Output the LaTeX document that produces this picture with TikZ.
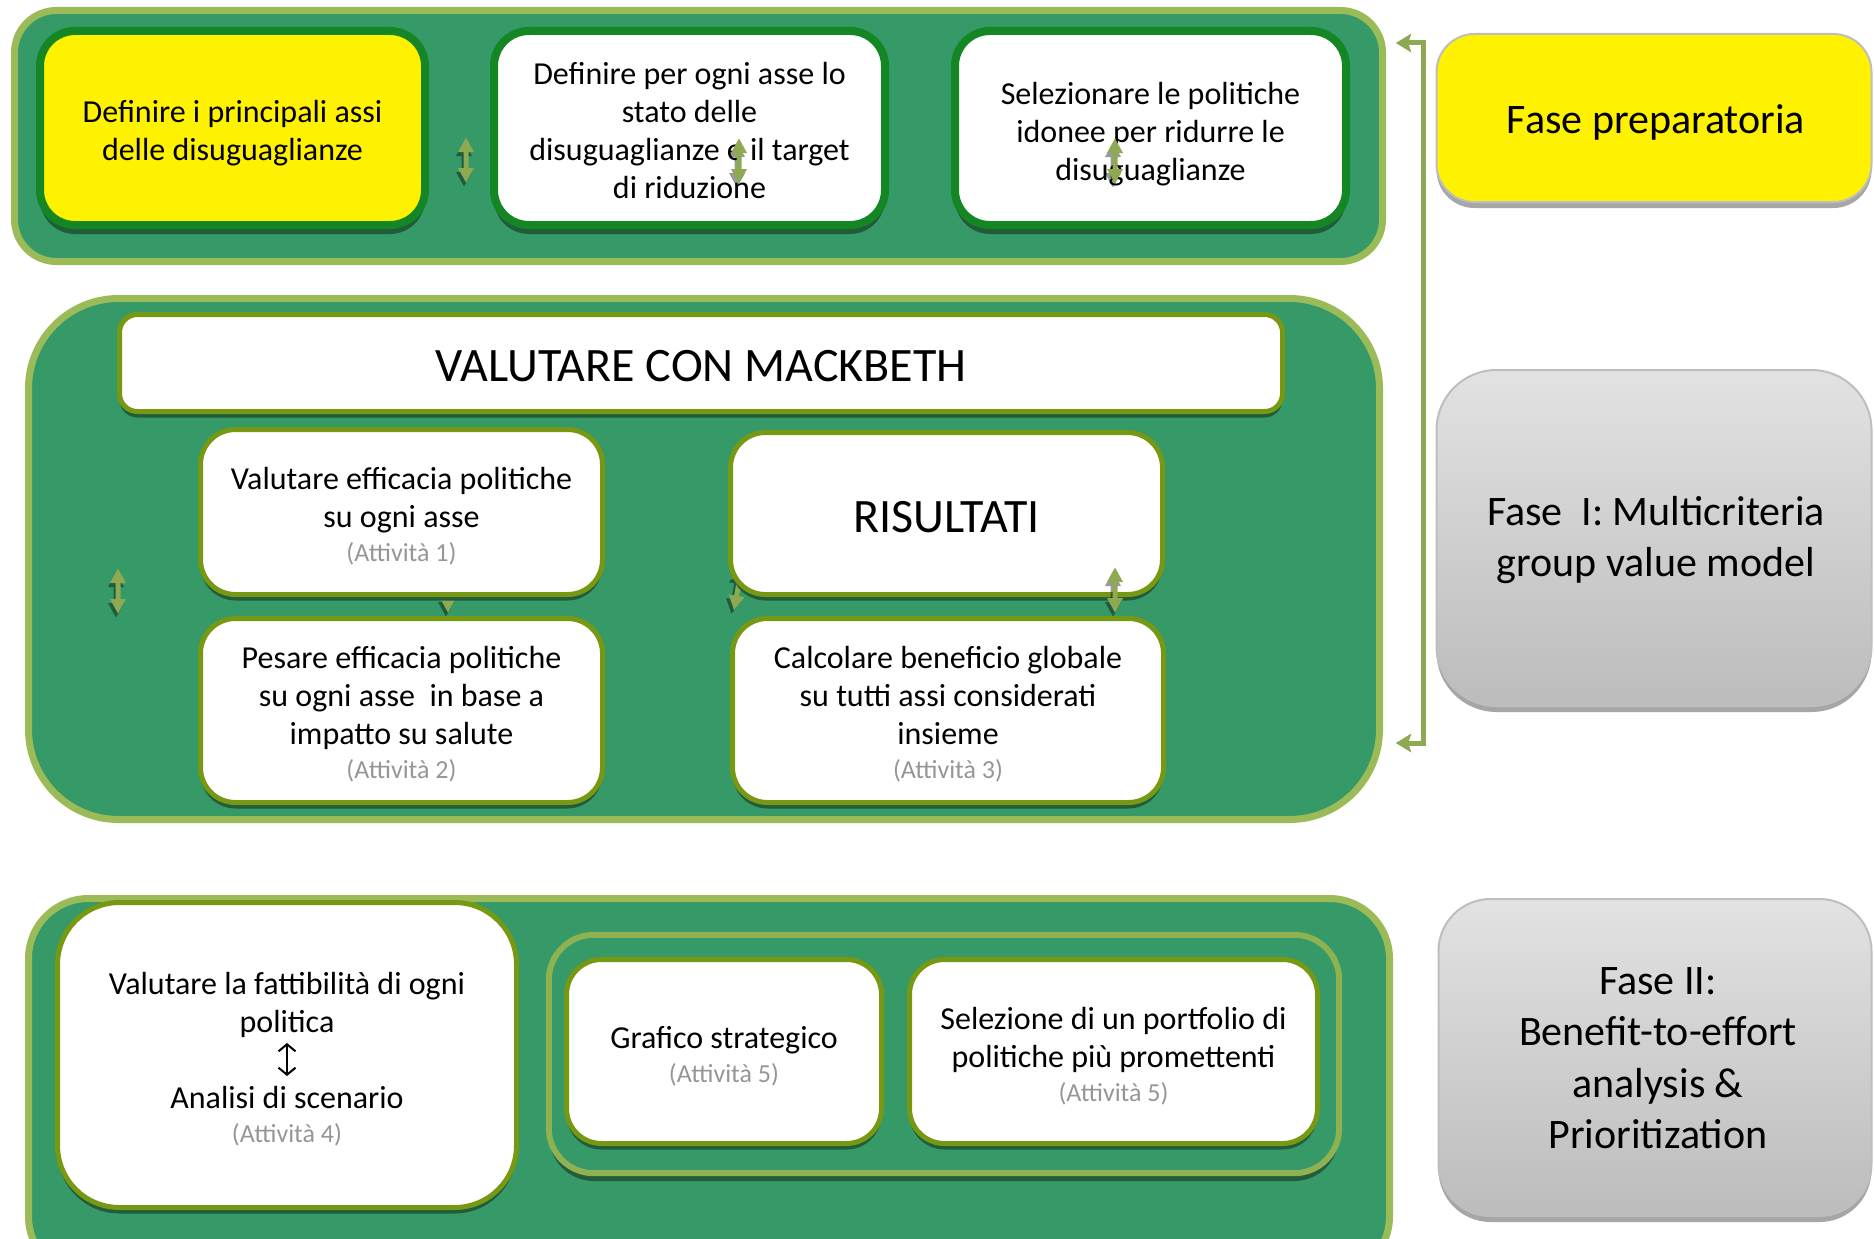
\documentclass[tikz,border=0pt]{standalone}
\usepackage{fontspec}
\setmainfont{Carlito}
\usetikzlibrary{shadows,arrows.meta}

\definecolor{cgreen}{RGB}{53,153,104}
\definecolor{clight}{RGB}{155,187,89}
\definecolor{cinner}{RGB}{142,178,82}
\definecolor{cdark}{RGB}{20,134,35}
\definecolor{colive}{RGB}{118,152,18}
\definecolor{carrow}{RGB}{141,170,82}
\definecolor{cshadow}{RGB}{34,92,58}
\definecolor{cgrayline}{RGB}{190,190,190}
\definecolor{ctxtgray}{RGB}{150,150,150}
\definecolor{gtop}{RGB}{226,226,226}
\definecolor{gbot}{RGB}{188,188,188}

\newcommand\txtbody{\fontsize{32}{38}\selectfont}
\newcommand\txtbig{\fontsize{48}{58}\selectfont}
\newcommand\txtphase{\fontsize{42}{51.5}\selectfont}
\newcommand\txtnote{\fontsize{26}{32}\selectfont\color{ctxtgray}}

\tikzset{
  panel/.style={draw=clight, line width=7pt, fill=cgreen, inner sep=0pt},
  topbox/.style={draw=cdark, line width=8pt, rounded corners=35pt, inner sep=0pt,
    drop shadow={shadow xshift=0pt, shadow yshift=-9pt, fill=cshadow, opacity=1}},
  midbox/.style={draw=colive, line width=5pt, fill=white, rounded corners=35pt,
    inner sep=0pt,
    drop shadow={shadow xshift=0pt, shadow yshift=-6pt, fill=cshadow, opacity=1}},
  phasebox/.style={draw=cgrayline, line width=2pt, inner sep=0pt,
    drop shadow={shadow xshift=0pt, shadow yshift=-6pt, fill=black!35, opacity=1}},
  graded/.style={top color=gtop, bottom color=gbot},
  txt/.style={align=center, font=\txtbody, inner sep=0pt},
  bigtxt/.style={align=center, font=\txtbig, inner sep=0pt},
  phasetxt/.style={align=center, font=\txtphase, inner sep=0pt},
  updown/.pic={
    \fill[black, opacity=0.4, shift={(-2,4)}]
      (0,-22.5) -- (8,-8) -- (2.5,-8) -- (2.5,8) -- (8,8) -- (0,22.5)
      -- (-8,8) -- (-2.5,8) -- (-2.5,-8) -- (-8,-8) -- cycle;
    \fill[carrow]
      (0,-22.5) -- (8,-8) -- (2.5,-8) -- (2.5,8) -- (8,8) -- (0,22.5)
      -- (-8,8) -- (-2.5,8) -- (-2.5,-8) -- (-8,-8) -- cycle;
  },
  tipstyle/.style={-{Stealth[length=15pt,width=18pt,inset=3pt]}},
  barb/.style={{Straight Barb[length=7pt,width=17pt,line width=2pt]}-{Straight Barb[length=7pt,width=17pt,line width=2pt]}},
}

\begin{document}
\begin{tikzpicture}[x=1pt, y=-1pt]
\useasboundingbox (0,0) rectangle (1874,1239);
\clip (0,0) rectangle (1874,1239);
\fill[white] (0,0) rectangle (1874,1239);

% ---- three green panels ----
\node[panel, rounded corners=42pt, minimum width=1368pt, minimum height=251pt]
  (prep) at (698.5,136) {};
\node[panel, rounded corners=90pt, minimum width=1351pt, minimum height=521pt]
  (mcda) at (704,559) {};
\node[panel, rounded corners=60pt, minimum width=1361pt, minimum height=378pt]
  (prio) at (709,1087.5) {};

% ---- arrows partly hidden under the activity boxes ----
\pic at (448,590) {updown};
\pic[rotate=-10] at (738,588) {updown};

% ---- preparatory steps ----
\node[topbox, fill=yellow, minimum width=385pt, minimum height=194pt] (axes) at (232.5,128) {};
\node[topbox, fill=white, minimum width=391pt, minimum height=194pt] (state) at (689.5,128) {};
\node[topbox, fill=white, minimum width=391pt, minimum height=194pt] (select) at (1150.5,128) {};
\node[txt] (axesT) at (232.5,133) {Definire i principali assi\\ delle disuguaglianze};
\node[txt] (stateT) at (689.5,131) {Definire per ogni asse lo\\ stato delle\\ disuguaglianze e il target\\ di riduzione};
\node[txt] (selectT) at (1150.5,134) {Selezionare le politiche\\ idonee per ridurre le\\ disuguaglianze};

% ---- MACBETH evaluation ----
\node[midbox, rounded corners=18pt, minimum width=1163pt, minimum height=97pt] (macb) at (701,363) {};
\node[bigtxt] (macbT) at (701,366) {VALUTARE CON MACKBETH};
\node[midbox, minimum width=402pt, minimum height=165pt] (act1) at (401.5,512) {};
\node[txt] (act1T) at (401.5,516) {Valutare efficacia politiche\\ su ogni asse\\[-4pt] {\txtnote (Attività 1)}};
\node[midbox, minimum width=402pt, minimum height=184pt] (act2) at (401.5,710.5) {};
\node[txt] (act2T) at (401.5,714) {Pesare efficacia politiche\\ su ogni asse\ \ in base a\\ impatto su salute\\[-4pt] {\txtnote (Attività 2)}};
\node[midbox, minimum width=432pt, minimum height=162pt] (res) at (946.5,513.5) {};
\node[bigtxt] (resT) at (946.5,517) {RISULTATI};
\node[midbox, minimum width=431pt, minimum height=184pt] (act3) at (948,710.5) {};
\node[txt] (act3T) at (948,714) {Calcolare beneficio globale\\ su tutti assi considerati\\ insieme\\[-4pt] {\txtnote (Attività 3)}};

% ---- feasibility and prioritisation ----
\node[midbox, rounded corners=62pt, minimum width=459pt, minimum height=305pt] (act4) at (287,1055) {};
\node[txt] (act4T) at (287,1059) {Valutare la fattibilità di ogni\\ politica\\ \rule{0pt}{20pt}\\ Analisi di scenario\\[-4pt] {\txtnote (Attività 4)}};
\coordinate (swapTop) at (287,1043);
\coordinate (swapBot) at (287,1076);
\draw[black, line width=2pt, barb] (swapTop) -- (swapBot);

\node[fill=cgreen, rounded corners=45pt, minimum width=790pt, minimum height=238pt, inner sep=0pt,
  drop shadow={shadow xshift=0pt, shadow yshift=-8pt, fill=cshadow, opacity=1}]
  (grp) at (944,1054) {};
\draw[cshadow, line width=5pt, rounded corners=45pt, shift={(2,6)}]
  (grp.north west) rectangle (grp.south east);
\draw[cinner, line width=6pt, rounded corners=45pt]
  (grp.north west) rectangle (grp.south east);
\node[midbox, minimum width=315pt, minimum height=184pt] (chart) at (724,1051.5) {};
\node[txt] (chartT) at (724,1056) {Grafico strategico\\[-4pt] {\txtnote (Attività 5)}};
\node[midbox, minimum width=408pt, minimum height=184pt] (portf) at (1113.5,1051.5) {};
\node[txt] (portfT) at (1113.5,1056) {Selezione di un portfolio di\\ politiche più promettenti\\[-4pt] {\txtnote (Attività 5)}};

% ---- visible double arrows ----
\pic at (466,160) {updown};
\pic at (739,161) {updown};
\pic at (1115,161) {updown};
\pic at (118,591) {updown};
\pic at (1115,590) {updown};

% ---- bracket linking the preparatory and multicriteria panels ----
\coordinate (bkTop) at (1396,43);
\coordinate (bkBot) at (1396,743);
\coordinate (bkA) at (1423,43);
\coordinate (bkB) at (1423,743);
\draw[black!30, line width=5pt, tipstyle, shift={(-1,4)}] (bkA) -- (bkTop);
\draw[black!30, line width=5pt, tipstyle, shift={(-1,4)}] (bkB) -- (bkBot);
\draw[carrow, line width=5pt, {Stealth[length=15pt,width=18pt,inset=3pt]}-{Stealth[length=15pt,width=18pt,inset=3pt]}]
  (bkTop) -- (bkA) -- (bkB) -- (bkBot);

% ---- phase labels ----
\node[phasebox, fill=yellow, rounded corners=38pt, minimum width=435pt, minimum height=168pt] (ph0) at (1654,118) {};
\node[phasetxt] (ph0T) at (1656,122) {Fase preparatoria};
\node[phasebox, graded, rounded corners=60pt, minimum width=435pt, minimum height=336pt] (ph1) at (1654,538) {};
\node[phasetxt] (ph1T) at (1656,540) {Fase\ \ I: Multicriteria\\ group value model};
\node[phasebox, graded, rounded corners=52pt, minimum width=433pt, minimum height=317pt] (ph2) at (1655,1057.5) {};
\node[phasetxt] (ph2T) at (1658,1058) {Fase II:\\ Benefit-to-effort\\ analysis \&\\ Prioritization};
\end{tikzpicture}
\end{document}
